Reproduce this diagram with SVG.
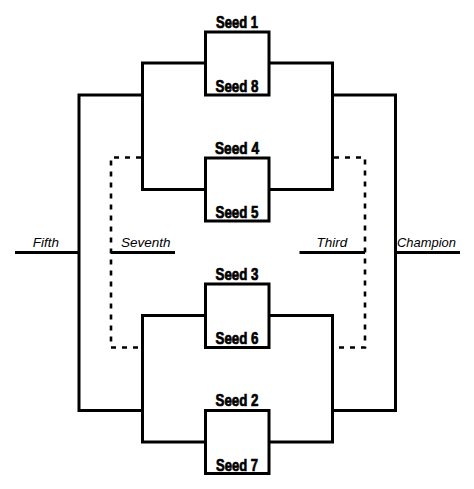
<svg xmlns="http://www.w3.org/2000/svg" width="474" height="489" viewBox="0 0 474 489">
<style>
.box{fill:none;stroke:#000;stroke-width:3}
.ln{fill:none;stroke:#000;stroke-width:3}
.dash{fill:none;stroke:#000;stroke-width:2.6;stroke-dasharray:5 6}
.seed{font-family:"Liberation Sans Narrow","Liberation Sans",Arial,sans-serif;font-weight:bold;font-size:16.5px;text-anchor:middle;fill:#000;stroke:#000;stroke-width:0.7}
.place{font-family:"Liberation Sans",Arial,sans-serif;font-style:italic;font-size:13.5px;fill:#000}
</style>
<rect width="474" height="489" fill="#fff"/>
<g id="connectors">
<path class="ln" d="M205.5,63 H142.5 V189.5 H205.5"/>
<path class="ln" d="M269,63 H332.5 V189.5 H269"/>
<path class="ln" d="M205.5,315.5 H142.5 V442 H205.5"/>
<path class="ln" d="M269,315.5 H332.5 V442 H269"/>
<path class="ln" d="M142.5,95 H79 V410.5 H142.5"/>
<path class="ln" d="M332.5,95 H395.5 V410.5 H332.5"/>
<path class="ln" d="M79,252.5 H15"/>
<path class="ln" d="M395.5,252.5 H460"/>
<path class="dash" d="M141,157.5 H111 V347.5 H141"/>
<path class="dash" d="M334,157.5 H365 V347.5 H334"/>
<path class="ln" d="M111,252.5 H175"/>
<path class="ln" d="M365,252.5 H299.5"/>
</g>
<g id="match1">
<rect class="box" x="205.5" y="32" width="63.5" height="63"/>
<text class="seed" x="237" y="28" textLength="42" lengthAdjust="spacingAndGlyphs">Seed 1</text>
<text class="seed" x="237" y="91.5" textLength="43" lengthAdjust="spacingAndGlyphs">Seed 8</text>
</g>
<g id="match2">
<rect class="box" x="205.5" y="158" width="63.5" height="63"/>
<text class="seed" x="237" y="154" textLength="44" lengthAdjust="spacingAndGlyphs">Seed 4</text>
<text class="seed" x="237" y="217.5" textLength="43" lengthAdjust="spacingAndGlyphs">Seed 5</text>
</g>
<g id="match3">
<rect class="box" x="205.5" y="284" width="63.5" height="63.5"/>
<text class="seed" x="237" y="280" textLength="43" lengthAdjust="spacingAndGlyphs">Seed 3</text>
<text class="seed" x="237" y="343.5" textLength="43" lengthAdjust="spacingAndGlyphs">Seed 6</text>
</g>
<g id="match4">
<rect class="box" x="205.5" y="410.5" width="63.5" height="63"/>
<text class="seed" x="237" y="406" textLength="43" lengthAdjust="spacingAndGlyphs">Seed 2</text>
<text class="seed" x="237" y="470.5" textLength="42" lengthAdjust="spacingAndGlyphs">Seed 7</text>
</g>
<g id="fifth"><text class="place" x="46" y="247" text-anchor="middle">Fifth</text></g>
<g id="seventh"><text class="place" x="121" y="247">Seventh</text></g>
<g id="third"><text class="place" x="332" y="247" text-anchor="middle">Third</text></g>
<g id="champion"><text class="place" x="397" y="247" textLength="59" lengthAdjust="spacingAndGlyphs">Champion</text></g>
</svg>
